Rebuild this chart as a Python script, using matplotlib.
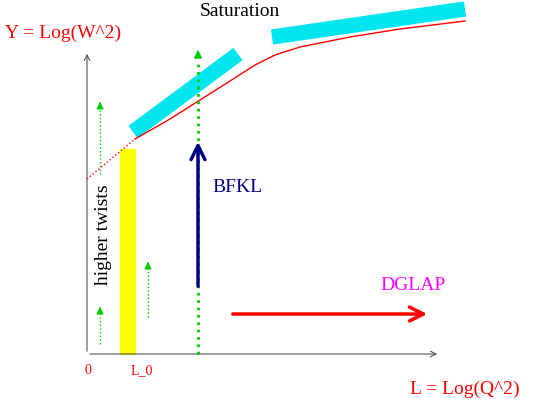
import matplotlib.pyplot as plt
import numpy as np

plt.rcParams['font.family'] = ['Liberation Serif', 'DejaVu Serif']

# schematic in pixel units of the original picture (y downwards)
axis_origin = (87, 355)
x_axis_end = 440
y_axis_end = 52

curve_x = [135, 170, 200, 230, 255, 275, 300, 350, 400, 465]
curve_y = [140, 120, 101, 82, 66, 56, 48, 38, 30, 22]
dotted_x = [87, 135]
dotted_y = [180, 140]

sat_bars = [((133, 133), (238, 55)), ((272, 38), (465, 10))]
twist_bar_x = (120, 135)
twist_bar_y = (150, 355)

small_arrows = [(100, 175, 100), (100, 345, 305), (148, 318, 260)]
bfkl_x, bfkl_y0, bfkl_y1 = 198, 290, 140
dglap_y, dglap_x0, dglap_x1 = 315, 230, 430

fig = plt.figure(figsize=(5.4, 4.02), dpi=100)
ax = fig.add_axes([0, 0, 1, 1])
ax.set_xlim(0, 540)
ax.set_ylim(402, 0)
ax.axis('off')

ox, oy = axis_origin
ax.annotate('', xy=(ox, y_axis_end), xytext=(ox, oy),
            arrowprops=dict(arrowstyle='->', color='#555555', lw=0.8))
ax.annotate('', xy=(x_axis_end, oy), xytext=(ox, oy),
            arrowprops=dict(arrowstyle='->', color='#555555', lw=0.8))

ax.fill_between(twist_bar_x, twist_bar_y[0], twist_bar_y[1], color='#ffff00', zorder=2)

for (p0, p1) in sat_bars:
    ax.plot([p0[0], p1[0]], [p0[1], p1[1]], color='#00e5ee', lw=11, solid_capstyle='butt', zorder=3)

ax.plot(curve_x, curve_y, color='red', lw=1, zorder=4)
ax.plot(dotted_x, dotted_y, color='red', lw=1, ls=':', zorder=4)

# green dotted line with arrow head
ax.plot([bfkl_x, bfkl_x], [oy, 62], color='#00cc00', lw=2, ls=':', zorder=4)
ax.annotate('', xy=(bfkl_x, 48), xytext=(bfkl_x, 62),
            arrowprops=dict(arrowstyle='-|>', color='#00cc00', lw=1, mutation_scale=12))
for x, y0, y1 in small_arrows:
    ax.plot([x, x], [y0, y1 + 8], color='#00cc00', lw=1, ls=':')
    ax.annotate('', xy=(x, y1), xytext=(x, y1 + 8),
                arrowprops=dict(arrowstyle='-|>', color='#00cc00', lw=1, mutation_scale=10))

ax.annotate('', xy=(bfkl_x, bfkl_y1), xytext=(bfkl_x, bfkl_y0),
            arrowprops=dict(arrowstyle='->', color='#000080', lw=2.5, mutation_scale=25), zorder=5)
ax.annotate('', xy=(dglap_x1, dglap_y), xytext=(dglap_x0, dglap_y),
            arrowprops=dict(arrowstyle='->', color='red', lw=2.5, mutation_scale=25))

ax.text(5, 38, 'Y = Log(W^2)', color='red', fontsize=14, va='baseline')
ax.text(200, 16, 'Saturation', color='black', fontsize=14, va='baseline')
ax.text(88, 374, '0', color='red', fontsize=10, ha='center', va='baseline')
ax.text(131, 374, 'L_0', color='red', fontsize=10, va='baseline')
ax.text(410, 394, 'L = Log(Q^2)', color='red', fontsize=14, va='baseline')
ax.text(212, 192, 'BFKL', color='#000080', fontsize=14, va='baseline')
ax.text(380, 290, 'DGLAP', color='#ff00ff', fontsize=14, va='baseline')
ax.text(103, 235, 'higher twists', color='black', fontsize=14, rotation=90,
        ha='center', va='center')

fig.savefig('out.png', dpi=100)
